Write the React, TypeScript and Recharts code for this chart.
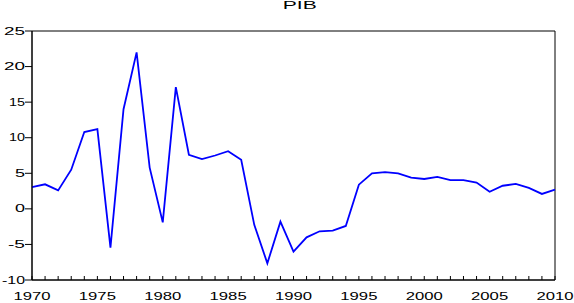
import React from 'react';
import { LineChart, Line, XAxis, YAxis, ReferenceArea } from 'recharts';

const years = [
  1970, 1971, 1972, 1973, 1974, 1975, 1976, 1977, 1978, 1979,
  1980, 1981, 1982, 1983, 1984, 1985, 1986, 1987, 1988, 1989,
  1990, 1991, 1992, 1993, 1994, 1995, 1996, 1997, 1998, 1999,
  2000, 2001, 2002, 2003, 2004, 2005, 2006, 2007, 2008, 2009, 2010,
];
const pib = [
  3.05, 3.45, 2.6, 5.5, 10.8, 11.2, -5.45, 14.0, 22.0, 5.8,
  -1.9, 17.1, 7.6, 7.0, 7.5, 8.1, 6.9, -2.25, -7.65, -1.8,
  -6.0, -4.0, -3.15, -3.05, -2.4, 3.4, 5.0, 5.15, 5.0, 4.4,
  4.2, 4.5, 4.05, 4.05, 3.7, 2.4, 3.25, 3.5, 2.95, 2.1, 2.7,
];
const yTicks = [-10, -5, 0, 5, 10, 15, 20, 25];

const data = years.map((year, i) => ({ year, pib: pib[i] }));

const FONT = 'Arial, "Liberation Sans", sans-serif';

// the original font is wide: roughly 7px for '-', 6px for '1', 11px other digits
const labelWidth = (s: string) =>
  s.split('').reduce((w, c) => w + (c === '-' ? 7 : c === '1' ? 6 : 11), 0) - 1;

const YearTick = (props: any) => {
  const { x, y, payload } = props;
  const v = payload.value as number;
  return (
    <g>
      <line x1={x} x2={x} y1={y} y2={y - 4} stroke="#000" strokeWidth={1} />
      {v % 5 === 0 && (
        <text
          transform={`translate(${x},${y + 19.5}) scale(1.67,1)`}
          textAnchor="middle"
          fontFamily={FONT}
          fontSize={10}
          fill="#000"
        >
          {v}
        </text>
      )}
    </g>
  );
};

const ValueTick = (props: any) => {
  const { x, y, payload } = props;
  const s = String(payload.value);
  const w = labelWidth(s);
  return (
    <text
      x={x - w}
      y={y + 3.6}
      textLength={w}
      lengthAdjust="spacingAndGlyphs"
      fontFamily={FONT}
      fontSize={10}
      fill="#000"
    >
      {s}
    </text>
  );
};

export default function App() {
  return (
    <div style={{ position: 'absolute', left: 0, top: 0, width: 574, height: 303, background: '#fff' }}>
      <svg width={574} height={20} style={{ position: 'absolute', left: 0, top: 0 }}>
        <text
          transform="translate(299.7,9) scale(1.92,1)"
          textAnchor="middle"
          fontFamily={FONT}
          fontSize={11}
          fill="#000"
        >
          PIB
        </text>
      </svg>
      <LineChart width={574} height={303} data={data} margin={{ top: 31, right: 19, bottom: 0, left: 0 }}>
        <XAxis
          dataKey="year"
          type="number"
          domain={[1970, 2010]}
          ticks={years}
          interval={0}
          height={23}
          axisLine={{ stroke: '#000' }}
          tickLine={false}
          tickSize={0}
          tickMargin={0}
          tick={<YearTick />}
        />
        <YAxis
          type="number"
          domain={[-10, 25]}
          ticks={yTicks}
          interval={0}
          width={32}
          axisLine={{ stroke: '#000' }}
          tickLine={{ stroke: '#000' }}
          tickSize={7}
          tickMargin={0}
          tick={<ValueTick />}
        />
        <ReferenceArea x1={1970} x2={2010} y1={-10} y2={25} fill="none" stroke="#000" strokeWidth={1} ifOverflow="visible" />
        <Line
          type="linear"
          dataKey="pib"
          stroke="#0000ff"
          strokeWidth={1.8}
          dot={false}
          isAnimationActive={false}
        />
      </LineChart>
    </div>
  );
}
